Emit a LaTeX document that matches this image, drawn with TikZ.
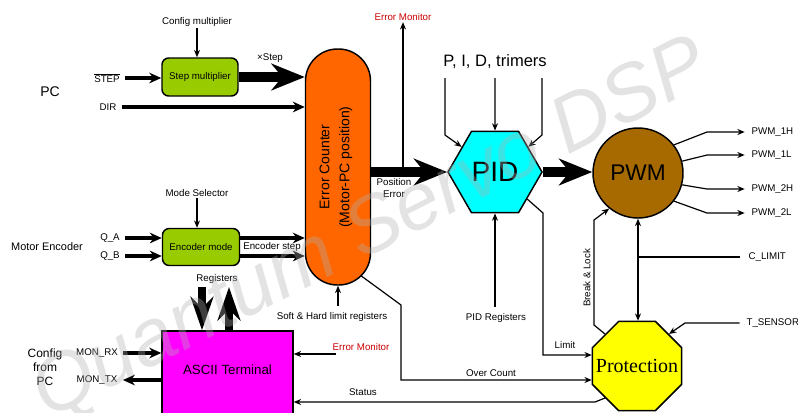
\documentclass[tikz,border=0pt]{standalone}
\usepackage{fontspec}
\setmainfont{Liberation Sans}
\newfontfamily\serifft{Liberation Serif}
\usetikzlibrary{arrows.meta,shapes.geometric,calc}
\definecolor{boxgreen}{RGB}{153,204,0}
\definecolor{ecorange}{RGB}{255,102,0}
\definecolor{pidcyan}{RGB}{0,255,255}
\definecolor{pwmbrown}{RGB}{166,106,0}
\definecolor{magent}{RGB}{255,0,255}
\definecolor{protyellow}{RGB}{255,255,0}
\definecolor{monred}{RGB}{204,0,0}
\definecolor{wmgray}{RGB}{175,175,175}
\begin{document}
\begin{tikzpicture}[x=0.75pt,y=-0.75pt,
  lbl/.style={font=\fontsize{7.3}{8.3}\selectfont, inner sep=1pt},
  procbox/.style={draw=black, line width=1.1pt, fill=boxgreen, rounded corners=5pt,
    font=\fontsize{7.3}{8.5}\selectfont, inner sep=1pt},
  conn/.style={line width=0.9pt, -{Stealth[length=5.5pt,width=4.5pt]}},
  dconn/.style={line width=0.9pt, {Stealth[length=5.5pt,width=4.5pt]}-{Stealth[length=5.5pt,width=4.5pt]}},
  medarr/.style={line width=2.3pt, -{Stealth[length=9pt,width=8pt]}},
  bigarr/.style={line width=7pt, -{Stealth[length=25pt,width=20pt]}},
  regarr/.style={line width=6pt, -{Stealth[length=25pt,width=17pt]}}]
\fill[white] (0,0) rectangle (798,412);
\useasboundingbox (0,0) rectangle (798,412);

% ---- main blocks
\node[procbox, minimum width=57pt, minimum height=28.5pt] (stepm) at (200,77) {Step multiplier};
\node[procbox, minimum width=57.75pt, minimum height=27.75pt] (encm) at (201,247) {Encoder mode};
\node[draw, line width=1.1pt, fill=ecorange, minimum width=48.75pt, minimum height=177pt,
  rounded corners=24pt, inner sep=0pt] (ec) at (338,167) {};
\node[rotate=90, align=center, font=\fontsize{10.5}{15}\selectfont] (ectext) at (336,167)
  {Error Counter\\(Motor-PC position)};
\node[regular polygon, regular polygon sides=6, minimum size=70.5pt, inner sep=0pt, draw,
  line width=1.1pt, fill=pidcyan, font=\fontsize{21}{24}\selectfont] (pid) at (495,172) {PID};
\node[circle, minimum size=67.5pt, draw, line width=1.1pt, fill=pwmbrown, inner sep=0pt,
  font=\fontsize{17}{20}\selectfont] (pwm) at (638,173) {PWM};
\node[regular polygon, regular polygon sides=8, minimum size=72.3pt, inner sep=0pt, draw,
  line width=1.1pt, fill=protyellow] (prot) at (637,366) {};
\node[font=\serifft\fontsize{15}{18}\selectfont, inner sep=0pt] (prottext) at (637,366) {Protection};
\node[draw, line width=1.1pt, fill=magent, minimum width=98.25pt, minimum height=66pt,
  inner sep=0pt] (ascii) at (227.5,375) {};
\node[font=\fontsize{10}{12}\selectfont] (asciitext) at (227.5,370) {ASCII Terminal};

% ---- labels
\node[font=\fontsize{10.5}{12}\selectfont] (pc1) at (50,92) {PC};
\node[lbl] (cfgm) at (197,22) {Config multiplier};
\node[lbl] (stepl) at (107,78) {$\overline{\hbox{STEP}}$};
\node[lbl] (dirl) at (108,107) {DIR};
\node[lbl] (xstep) at (270,58) {×Step};
\node[lbl, text=monred] (errmon1) at (403,17) {Error Monitor};
\node[font=\fontsize{12.4}{14}\selectfont] (trim) at (495,62) {P, I, D, trimers};
\node[lbl, align=center] (poserr) at (394,188) {Position\\Error};
\node[lbl] (modesel) at (197,193) {Mode Selector};
\node[font=\fontsize{8.2}{10}\selectfont] (motor) at (47,247) {Motor Encoder};
\node[lbl] (qa) at (110,238) {Q\_A};
\node[lbl] (qb) at (110,256) {Q\_B};
\node[lbl] (encstep) at (272,247) {Encoder step};
\node[lbl] (regs) at (217,279) {Registers};
\node[lbl] (softhard) at (332,317) {Soft \& Hard limit registers};
\node[lbl, text=monred] (errmon2) at (361,347) {Error Monitor};
\node[lbl] (status) at (363,392) {Status};
\node[font=\fontsize{9}{10.5}\selectfont, align=center] (cfgpc) at (45,367) {Config\\from\\PC};
\node[lbl] (monrx) at (97,353) {MON\_RX};
\node[lbl] (montx) at (97,380) {MON\_TX};
\node[lbl, anchor=west] (pwm1h) at (750,132) {PWM\_1H};
\node[lbl, anchor=west] (pwm1l) at (750,155) {PWM\_1L};
\node[lbl, anchor=west] (pwm2h) at (750,189) {PWM\_2H};
\node[lbl, anchor=west] (pwm2l) at (750,213) {PWM\_2L};
\node[lbl, anchor=west] (climit) at (747,257) {C\_LIMIT};
\node[lbl, anchor=west] (tsensor) at (745,323) {T\_SENSOR};
\node[lbl] (pidreg) at (496,318) {PID Registers};
\node[lbl] (limit) at (565,345) {Limit};
\node[lbl] (overc) at (491,373) {Over Count};
\node[lbl, rotate=90] (brk) at (587,278) {Break \& Lock};

% ---- connectors (left side)
\draw[conn] (cfgm.south) -- (cfgm.south |- stepm.north);
\draw[medarr] ([xshift=3pt]stepl.east) -- (stepl.east -| stepm.west);
\draw[medarr] ([xshift=3pt]dirl.east) -- (dirl.east -| ec.west);
\draw[bigarr] (stepm.east) -- (stepm.east -| ec.west);
\draw[conn] (modesel.south) -- (modesel.south |- encm.north);
\draw[medarr] ([xshift=3pt]qa.east) -- (qa.east -| encm.west);
\draw[medarr] ([xshift=3pt]qb.east) -- (qb.east -| encm.west);
\draw[medarr] (encm.east |- qa.east) -- (qa.east -| ec.west);
\draw[medarr] (encm.east |- qb.east) -- (qb.east -| ec.west);
\draw[medarr] ([xshift=3pt]monrx.east) -- (monrx.east -| ascii.west);
\draw[medarr] (montx.east -| ascii.west) -- ([xshift=3pt]montx.east);
\coordinate (rd) at (202,287);
\coordinate (ru) at (229,287);
\draw[regarr] (rd) -- (rd |- ascii.north);
\draw[regarr] (ru |- ascii.north) -- (ru);

% ---- centre
\draw[bigarr] (ec.east |- pid.west) -- (pid.west);
\draw[conn] (errmon1.south |- pid.west) -- (errmon1.south);
\coordinate (sh) at ([yshift=4pt]softhard.north);
\draw[conn] (ec.south |- sh) -- (ec.south);
\coordinate (em2s) at ([shift={(5,7)}]errmon2.west);
\draw[conn] (em2s) -- (em2s -| ascii.east);
\coordinate (ecbr) at ([shift={(23,-10)}]ec.south);
\draw[conn] (ecbr) -- (401,305) -- (401,380) -- (401,380 -| prot.west);

% ---- PID
\coordinate (tl) at (445,78);
\coordinate (tm) at (495,78);
\coordinate (tr) at (542,78);
\draw[conn] (tl) -- (445,135) -- (pid.143);
\draw[conn] (tm) -- (pid.north);
\draw[conn] (tr) -- (542,135) -- (pid.37);
\draw[bigarr] (pid.east) -- (pid.east -| pwm.west);
\coordinate (pr) at ([yshift=4pt]pidreg.north);
\draw[conn] (pid.south |- pr) -- (pid.south);
\draw[conn] (pid.-40) -- (543,213) -- (543,355) -- (543,355 -| prot.west);

% ---- PWM & protection
\draw[conn] (pwm.38) -- (707,132) -- ([xshift=-4pt]pwm1h.west);
\draw[conn] (pwm.15) -- (707,155) -- ([xshift=-4pt]pwm1l.west);
\draw[conn] (pwm.-15) -- (707,189) -- ([xshift=-4pt]pwm2h.west);
\draw[conn] (pwm.-38) -- (707,213) -- ([xshift=-4pt]pwm2l.west);
\draw[dconn] (pwm.south) -- (pwm.south |- prot.north);
\draw[line width=0.9pt] ([xshift=-5pt]climit.west) -- (climit.west -| pwm.south);
\draw[conn] (prot.135) -- (594,325) -- (594,220) -- (pwm.-129);
\draw[conn] ([xshift=-4pt]tsensor.west) -- (685,323) -- (prot.45);
\draw[conn] (prot.-135) -- (595,402) -- (595,402 -| ascii.east);

% ---- watermark
\node[rotate=27, font=\itshape\fontsize{60}{62}\selectfont, text=wmgray, opacity=0.35]
  (wm) at (372,232) {Quantum Servo DSP};
\end{tikzpicture}
\end{document}
